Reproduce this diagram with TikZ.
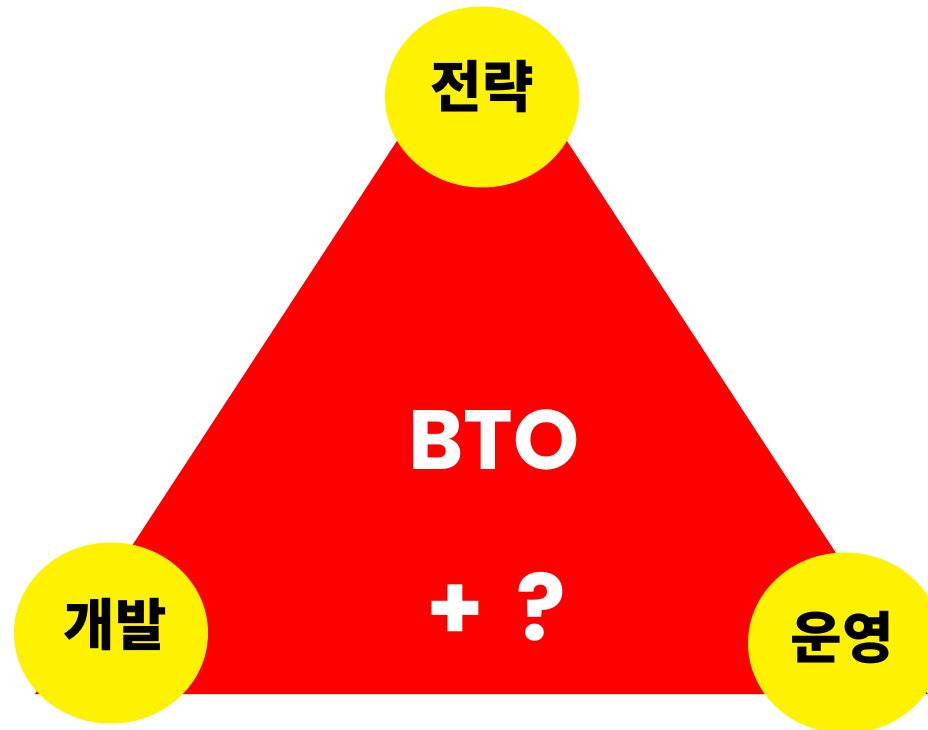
\documentclass[tikz,border=0pt]{standalone}
\usepackage{fontspec}
\setmainfont{Poppins}
\newfontfamily\kofont{Noto Sans CJK KR}
\usetikzlibrary{shapes.geometric}
\colorlet{trired}{red}
\colorlet{bubble}{yellow}
\tikzset{
  bubble/.style={ellipse,fill=bubble,minimum width=194,minimum height=181,inner sep=0},
  role/.style={inner sep=0,font=\kofont\bfseries\fontsize{56}{56}\selectfont},
  core/.style={inner sep=0,text=white,font=\bfseries\fontsize{84}{84}\selectfont}
}

\begin{document}
\begin{tikzpicture}[x=1pt,y=-1pt]
  \useasboundingbox (0,0) rectangle (928,730);
  \clip (0,0) rectangle (928,730);
  \coordinate (A) at (482,11);
  \coordinate (L) at (35,694);
  \coordinate (R) at (928,694);

  % TRIANGLE
  \fill[trired] (A) -- (L) -- (R) -- cycle;
  \node[core] (bto) at (494,440) {BTO};
  \node[core,font=\bfseries\fontsize{92}{92}\selectfont] (plus) at (496,607) {+\hspace{32pt}?};

  % BUBBLES
  \node[bubble] (top) at (482,97) {};
  \node[bubble] (left) at (111,633) {};
  \node[bubble] (right) at (845,643) {};
  \node[role] (strat) at (482,87) {전략};
  \node[role] (dev) at (115,624) {개발};
  \node[role] (ops) at (842,638) {운영};
\end{tikzpicture}
\end{document}
